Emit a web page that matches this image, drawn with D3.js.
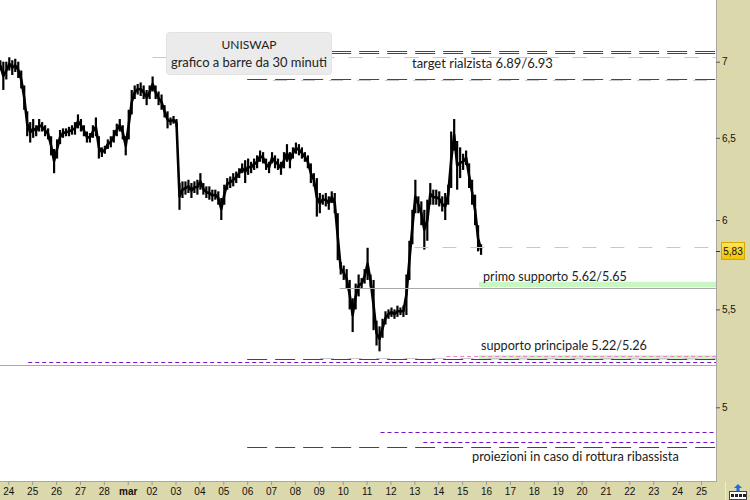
<!DOCTYPE html>
<html><head><meta charset="utf-8">
<script src="https://cdn.jsdelivr.net/npm/d3@7"></script>
<style>body{margin:0;background:#fff;} svg{display:block;}</style>
</head><body><svg id="c" width="750" height="500"></svg>
<script>
// ---------------- DATA ----------------
const chartTitle = "UNISWAP";
const chartSubtitle = "grafico a barre da 30 minuti";
const barStart = new Date(2023, 1, 23, 16);   // first bar (3-hour sampling of the 30-min chart)
const barHours = 3;
const highs = [7.01,7.00,7.00,7.03,7.01,7.02,7.00,6.94,6.84,6.67,
  6.60,6.62,6.58,6.62,6.60,6.58,6.56,6.51,6.43,6.49,
  6.55,6.56,6.56,6.57,6.58,6.60,6.65,6.62,6.58,6.54,
  6.53,6.58,6.63,6.51,6.44,6.45,6.49,6.51,6.55,6.59,
  6.62,6.58,6.51,6.68,6.81,6.84,6.85,6.86,6.84,6.81,
  6.84,6.90,6.84,6.80,6.78,6.71,6.67,6.63,6.64,6.62,
  6.22,6.23,6.23,6.24,6.22,6.23,6.24,6.28,6.22,6.20,
  6.20,6.18,6.18,6.17,6.13,6.21,6.25,6.26,6.28,6.29,
  6.31,6.34,6.36,6.37,6.35,6.37,6.39,6.42,6.41,6.37,
  6.35,6.41,6.39,6.37,6.35,6.41,6.46,6.41,6.44,6.47,
  6.46,6.44,6.41,6.39,6.34,6.28,6.25,6.16,6.15,6.16,
  6.14,6.17,6.16,6.04,5.76,5.74,5.72,5.66,5.56,5.64,
  5.69,5.67,5.72,5.84,5.69,5.66,5.44,5.41,5.45,5.49,
  5.50,5.51,5.50,5.52,5.51,5.52,5.69,5.88,6.06,6.24,
  6.14,6.11,6.06,6.12,6.22,6.18,6.18,6.17,6.14,6.16,
  6.21,6.54,6.62,6.48,6.44,6.40,6.42,6.34,6.24,6.15,
  5.97,5.86];
const lows = [6.94,6.81,6.88,6.94,6.91,6.93,6.89,6.82,6.68,6.51,
  6.47,6.50,6.51,6.54,6.54,6.51,6.49,6.39,6.28,6.37,
  6.46,6.50,6.51,6.51,6.52,6.52,6.56,6.54,6.51,6.47,
  6.47,6.50,6.51,6.37,6.38,6.40,6.43,6.44,6.47,6.51,
  6.54,6.49,6.39,6.49,6.65,6.75,6.78,6.77,6.75,6.71,
  6.75,6.80,6.75,6.71,6.68,6.63,6.56,6.58,6.59,6.57,
  6.06,6.13,6.15,6.16,6.13,6.16,6.15,6.18,6.15,6.13,
  6.12,6.11,6.12,6.09,6.00,6.09,6.18,6.19,6.20,6.22,
  6.25,6.28,6.22,6.27,6.28,6.30,6.31,6.35,6.34,6.30,
  6.28,6.34,6.31,6.30,6.27,6.31,6.35,6.31,6.37,6.40,
  6.39,6.37,6.35,6.31,6.22,6.20,6.02,6.04,6.09,6.08,
  6.06,6.10,6.04,5.77,5.69,5.66,5.61,5.50,5.38,5.50,
  5.57,5.61,5.64,5.66,5.62,5.39,5.31,5.28,5.35,5.42,
  5.45,5.46,5.45,5.46,5.47,5.46,5.47,5.66,5.86,6.04,
  6.04,5.97,5.83,5.88,6.09,6.09,6.09,6.08,6.05,6.00,
  6.09,6.19,6.42,6.18,6.25,6.30,6.33,6.19,6.09,5.97,
  5.82,5.80];
const lastPrice = 5.83;
const priceTicks = [5, 5.5, 6, 6.5, 7];
const dayTicks = d3.timeDay.range(new Date(2023, 1, 24), new Date(2023, 2, 26));

const levelLabels = ["target rialzista 6.89/6.93", "primo supporto 5.62/5.65",
  "supporto principale 5.22/5.26", "proiezioni in caso di rottura ribassista"];
const primoBand = [5.62, 5.65];
const principaleBand = [5.235, 5.26];
const bandStarts = [new Date(2023, 2, 15, 17), new Date(2023, 2, 15, 17)];
const purpleLongLevels = [7.075, 7.0575, 6.885, 5.239, 4.809];
const purpleLongStart = new Date(2023, 2, 6, 0);
const purpleShortLevels = [5.223, 4.882, 4.835];
const purpleShortStarts = [new Date(2023, 1, 24, 20), new Date(2023, 2, 11, 14), new Date(2023, 2, 13, 9)];
const grayDashLevels = [7.03, 6.876, 5.843, 5.246];
const grayDashStarts = [new Date(2023, 2, 2, 1), new Date(2023, 2, 7, 2), new Date(2023, 2, 13, 0), new Date(2023, 2, 9, 1)];
const graySolidLevels = [5.615, 5.212];
const graySolidStarts = [new Date(2023, 2, 9, 21), new Date(2023, 1, 23, 0)];
const pinkLevels = [5.258];
const pinkStarts = [new Date(2023, 2, 14, 8)];

// ---------------- LAYOUT ----------------
const W = 750, H = 500, plotR = 716, plotB = 481;
const svg = d3.select("#c");
const x = d3.scaleTime().domain([new Date(2023, 1, 24), new Date(2023, 2, 25)]).range([8.3, 701]);
const y = d3.scaleLog().domain([5, 7]).range([407.3, 61.7]);
const PURPLE = "#7a12c8";
const FONT = "Lato, 'Open Sans', sans-serif";
const AXFONT = "'Liberation Sans', Arial, sans-serif";
const py = v => Math.round(y(v)) + 0.5;

svg.append("rect").attr("width", W).attr("height", H).attr("fill", "#fff");
svg.append("defs").append("clipPath").attr("id", "plot")
  .append("rect").attr("width", plotR).attr("height", plotB);

const plot = svg.append("g").attr("clip-path", "url(#plot)");

// price: a mid line through each sampled bar plus the bars' high-low ranges
const bars = highs.map((h, i) => ({ t: d3.timeHour.offset(barStart, i * barHours), h, l: lows[i] }));
plot.append("path").datum(bars)
  .attr("d", d3.line().x(d => x(d.t)).y(d => (y(d.l) + y(d.h)) / 2))
  .attr("fill", "none").attr("stroke", "#000").attr("stroke-width", 2.6).attr("stroke-linejoin", "round");
plot.append("g").selectAll("line").data(bars).join("line")
  .attr("x1", d => x(d.t)).attr("x2", d => x(d.t))
  .attr("y1", d => y(d.h)).attr("y2", d => y(d.l))
  .attr("stroke", "#000").attr("stroke-width", 2.2);

// bands
plot.selectAll(".band").data([primoBand, principaleBand]).join("rect")
  .attr("x", (d, i) => x(bandStarts[i])).attr("width", (d, i) => plotR - x(bandStarts[i]))
  .attr("y", d => y(d[1])).attr("height", d => y(d[0]) - y(d[1]))
  .attr("fill", "#c8f7c2");

function hlines(levels, starts, color, dash) {
  plot.append("g").selectAll("line").data(levels).join("line")
    .attr("x1", (d, i) => Array.isArray(starts) ? x(starts[i]) : x(starts))
    .attr("x2", plotR).attr("y1", d => py(d)).attr("y2", d => py(d))
    .attr("stroke", color).attr("stroke-width", 1)
    .attr("stroke-dasharray", dash);
}
hlines(grayDashLevels, grayDashStarts, "#c8c8c8", "14,14");
hlines(graySolidLevels, graySolidStarts, "#a9a9a9", null);
hlines(pinkLevels, pinkStarts, "#f080c8", "4,3");

// title box
svg.append("rect").attr("x", 166.5).attr("y", 32.5).attr("width", 165).attr("height", 42).attr("rx", 3)
  .attr("fill", "#ebebeb").attr("stroke", "#e2e2e2");

hlines(purpleLongLevels, purpleLongStart, PURPLE, "20,8");
hlines(purpleShortLevels, purpleShortStarts, PURPLE, "4,3");

function fit(sel, w) {
  const cur = sel.node().getComputedTextLength();
  sel.attr("font-size", parseFloat(sel.attr("font-size")) * w / cur);
}
const t1 = svg.append("text").attr("x", 249).attr("y", 49).attr("text-anchor", "middle")
  .attr("font-family", FONT).attr("font-size", 12).attr("fill", "#222").text(chartTitle);
fit(t1, 55);
const t2 = svg.append("text").attr("x", 249).attr("y", 67).attr("text-anchor", "middle")
  .attr("font-family", FONT).attr("font-size", 12).attr("fill", "#222").text(chartSubtitle);
fit(t2, 156);

const labelPos = [[412, 68, 141], [483, 281, 144], [481, 350, 166], [472, 461, 207]];
levelLabels.forEach((s, i) => {
  const t = svg.append("text").attr("x", labelPos[i][0]).attr("y", labelPos[i][1])
    .attr("font-family", FONT).attr("font-size", 12).attr("fill", "#222").text(s);
  fit(t, labelPos[i][2]);
});

// right panel
svg.append("rect").attr("x", plotR).attr("y", 0).attr("width", W - plotR).attr("height", H).attr("fill", "#dbd8ab");
svg.append("rect").attr("x", 0).attr("y", plotB).attr("width", W).attr("height", H - plotB).attr("fill", "#dbd8ab");
svg.append("line").attr("x1", plotR + 0.5).attr("x2", plotR + 0.5).attr("y1", 0).attr("y2", plotB + 1)
  .attr("stroke", "#a8a8a8");
svg.append("line").attr("x1", 0).attr("x2", plotR + 1).attr("y1", plotB + 0.5).attr("y2", plotB + 0.5)
  .attr("stroke", "#a8a8a8");
svg.append("line").attr("x1", 725.5).attr("x2", 725.5).attr("y1", plotB + 1).attr("y2", H)
  .attr("stroke", "#eeecd0");

const itLocale = d3.formatLocale({ decimal: ",", thousands: ".", grouping: [3], currency: ["", "€"] });
const fmt = itLocale.format("~r");
const yAxis = svg.append("g").attr("transform", `translate(${plotR},0)`)
  .call(d3.axisRight(y).tickValues(priceTicks).tickSize(4).tickPadding(2).tickFormat(fmt));
yAxis.select(".domain").remove();
yAxis.selectAll(".tick line").attr("stroke", "#555");
yAxis.selectAll(".tick text").attr("font-family", AXFONT).attr("font-size", 10).attr("fill", "#111");

// last price tag
const ly = y(lastPrice) + 1.5;
const grad = svg.select("defs").append("linearGradient").attr("id", "gold").attr("x1", 0).attr("x2", 0).attr("y1", 0).attr("y2", 1);
grad.append("stop").attr("offset", 0).attr("stop-color", "#ffe45c");
grad.append("stop").attr("offset", 1).attr("stop-color", "#f2c200");
svg.append("line").attr("x1", plotR).attr("x2", plotR + 4).attr("y1", Math.round(ly) + 0.5).attr("y2", Math.round(ly) + 0.5).attr("stroke", "#333");
svg.append("rect").attr("x", 721.5).attr("y", Math.round(ly) - 8.5).attr("width", 23).attr("height", 17)
  .attr("fill", "url(#gold)").attr("stroke", "#d8a800");
svg.append("text").attr("x", 733).attr("y", Math.round(ly) + 4).attr("text-anchor", "middle")
  .attr("font-family", AXFONT).attr("font-size", 10).attr("fill", "#111").text(fmt(lastPrice));

// bottom axis
const dayFmt = d3.timeFormat("%d");
const xAxis = svg.append("g").attr("transform", `translate(0,${plotB})`)
  .call(d3.axisBottom(x).tickValues(dayTicks).tickSize(4).tickPadding(3)
    .tickFormat(d => d.getDate() === 1 ? "mar" : dayFmt(d)));
xAxis.select(".domain").remove();
xAxis.selectAll(".tick line").attr("stroke", "#999");
xAxis.selectAll(".tick text").attr("font-family", AXFONT).attr("font-size", 10).attr("fill", "#111")
  .attr("font-weight", d => d.getDate() === 1 ? "bold" : "normal");

// corner icon
svg.append("rect").attr("x", 729.5).attr("y", 491.5).attr("width", 17).attr("height", 8).attr("fill", "#fff").attr("stroke", "#444");
for (let k = 0; k < 4; k++) svg.append("rect").attr("x", 731 + k * 4).attr("y", 494).attr("width", 3).attr("height", 3).attr("fill", "#222");
svg.append("path").attr("d", "M738,484 L734,488 L736.5,488 L736.5,491 L739.5,491 L739.5,488 L742,488 Z").attr("fill", "#1d6fd6");
</script></body></html>
